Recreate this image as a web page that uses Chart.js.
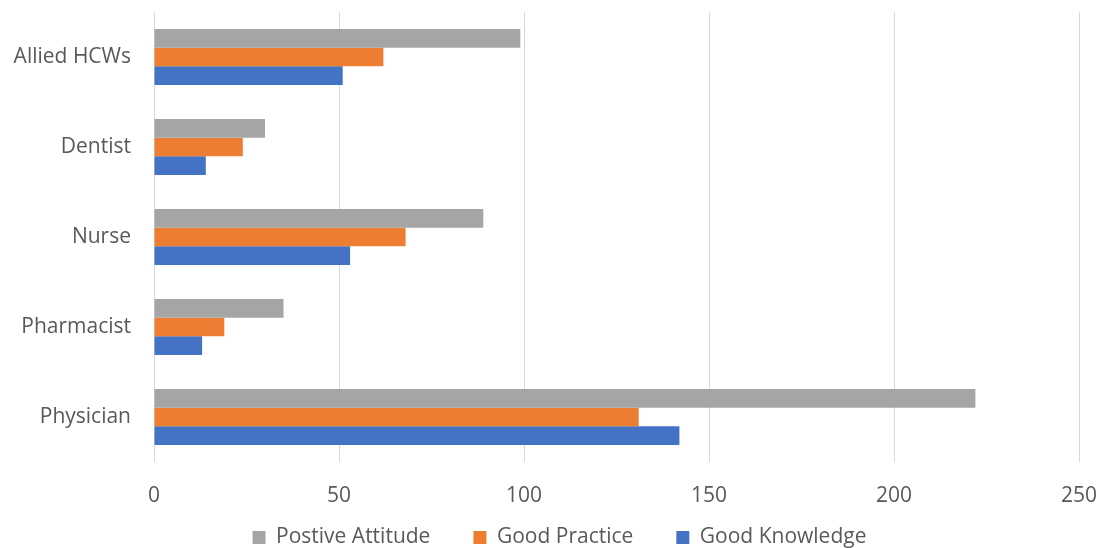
<!DOCTYPE html>
<html>
<head>
<meta charset="utf-8">
<script src="https://cdn.jsdelivr.net/npm/chart.js@4/dist/chart.umd.min.js"></script>
<style>
  html, body { margin: 0; padding: 0; background: #ffffff; }
  #wrap { width: 1099px; height: 548px; }
</style>
</head>
<body>
<div id="wrap"><canvas id="chart" width="1099" height="548"></canvas></div>
<script>
// Professional groups, listed top to bottom
const categories = ['Allied HCWs', 'Dentist', 'Nurse', 'Pharmacist', 'Physician'];

// Counts per group
const positiveAttitude = [99, 30, 89, 35, 222];
const goodPractice     = [62, 24, 68, 19, 131];
const goodKnowledge    = [51, 14, 53, 13, 142];

// Value axis ticks
const xTicks = [0, 50, 100, 150, 200, 250];

const seriesNames = ['Postive Attitude', 'Good Practice', 'Good Knowledge'];
const seriesColors = ['#A5A5A5', '#ED7D31', '#4472C4'];

const textColor = '#595959';
const fontFamily = '"Open Sans", "Liberation Sans", sans-serif';

// Grows the legend box upward and shifts it right after layout: the wide
// item spacing would otherwise push the legend row below the canvas edge.
const legendPlacement = {
  id: 'legendPlacement',
  afterLayout(chart) {
    const lg = chart.legend;
    if (!lg) return;
    lg.top -= 28;
    lg.height = lg.bottom - lg.top;
    lg.left += 20; lg.right += 20;
  }
};

new Chart(document.getElementById('chart'), {
  type: 'bar',
  data: {
    labels: categories,
    datasets: [positiveAttitude, goodPractice, goodKnowledge].map((values, i) => ({
      label: seriesNames[i],
      data: values,
      backgroundColor: seriesColors[i],
      borderWidth: 0,
      barPercentage: 1,
      categoryPercentage: 0.62
    }))
  },
  options: {
    indexAxis: 'y',
    responsive: false,
    animation: false,
    devicePixelRatio: 1,
    layout: { padding: { top: 12, left: 0, right: 20, bottom: 0 } },
    scales: {
      x: {
        min: xTicks[0],
        max: xTicks[xTicks.length - 1],
        afterBuildTicks: (scale) => { scale.ticks = xTicks.map(v => ({ value: v })); },
        afterFit: (scale) => {
          scale.height = 50;
          scale.paddingLeft = 0;
          scale.paddingRight = 0;
        },
        grid: { color: '#D9D9D9', lineWidth: 1, drawTicks: false },
        border: { display: false },
        ticks: {
          padding: 21,
          color: textColor,
          font: { family: fontFamily, size: 21 },
          maxRotation: 0
        }
      },
      y: {
        afterFit: (scale) => {
          scale.width = 154;
          scale.paddingTop = 0;
          scale.paddingBottom = 0;
        },
        grid: { display: false, drawTicks: false },
        border: { display: false },
        ticks: {
          padding: 23,
          color: textColor,
          font: { family: fontFamily, size: 21 }
        }
      }
    },
    plugins: {
      legend: {
        position: 'bottom',
        maxHeight: 36,
        labels: {
          boxWidth: 13,
          boxHeight: 13,
          padding: 43,
          color: textColor,
          font: { family: fontFamily, size: 21 }
        }
      },
      tooltip: { enabled: false }
    }
  },
  plugins: [legendPlacement]
});
</script>
</body>
</html>
